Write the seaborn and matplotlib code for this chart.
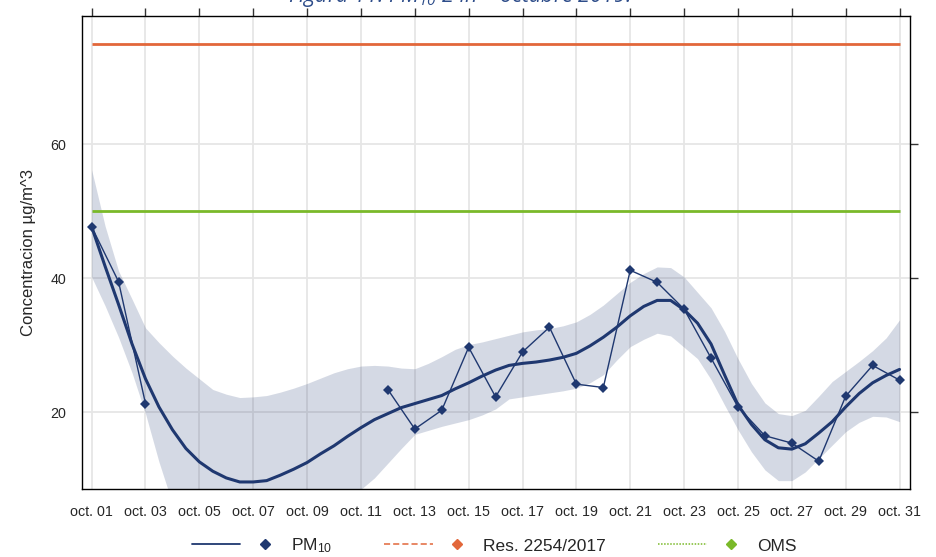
import numpy as np
import pandas as pd
import seaborn as sns
import matplotlib.pyplot as plt
from matplotlib.lines import Line2D
from matplotlib.legend_handler import HandlerTuple

# datos diarios PM10 - octubre 2019
fechas = pd.date_range("2019-10-01", "2019-10-31", freq="D")
pm10 = [47.7, 39.5, 21.3, np.nan, np.nan, np.nan, np.nan, np.nan, np.nan, np.nan, np.nan,
        23.4, 17.5, 20.3, 29.7, 22.3, 29.0, 32.7, 24.2, 23.7, 41.2, 39.4, 35.4, 28.1,
        20.8, 16.5, 15.4, 12.7, 22.4, 27.0, 24.8]

fechas_suav = pd.date_range("2019-10-01", "2019-10-31", freq="12h")
suavizado = [47.7, 41.8, 36.1, 30.2, 25.0, 20.8, 17.4, 14.6, 12.6, 11.2, 10.2, 9.6, 9.6,
             9.8, 10.6, 11.5, 12.5, 13.8, 15.0, 16.4, 17.7, 18.9, 19.8, 20.7, 21.3, 21.9,
             22.5, 23.5, 24.4, 25.4, 26.3, 27.0, 27.3, 27.5, 27.8, 28.2, 28.8, 29.9, 31.2,
             32.7, 34.4, 35.8, 36.7, 36.7, 35.3, 33.3, 30.2, 25.6, 21.1, 18.2, 15.9, 14.7,
             14.5, 15.3, 16.9, 18.6, 20.8, 22.8, 24.4, 25.5, 26.4]
banda_sup = [56.2, 47.8, 41.1, 36.9, 32.6, 30.4, 28.4, 26.6, 25.0, 23.4, 22.7, 22.2, 22.3,
             22.5, 23.0, 23.6, 24.3, 25.1, 25.9, 26.5, 26.9, 27.0, 26.9, 26.6, 26.5, 27.3,
             28.3, 29.4, 30.1, 30.5, 31.0, 31.5, 32.0, 32.3, 32.5, 32.9, 33.5, 34.6, 36.0,
             37.7, 39.4, 40.7, 41.7, 41.6, 40.2, 37.9, 35.6, 32.1, 28.0, 24.3, 21.4, 19.8,
             19.5, 20.3, 22.4, 24.6, 26.1, 27.6, 29.2, 31.1, 33.8]
banda_inf = [40.2, 35.9, 31.2, 25.9, 19.8, 12.6, 6.4, 2.6, 0.2, -1.0, -2.3, -3.0, -3.1,
             -2.9, -1.8, -0.6, 0.7, 2.5, 4.1, 6.3, 8.5, 10.2, 12.4, 14.6, 16.7, 17.3,
             17.9, 18.4, 18.9, 19.6, 20.5, 22.0, 22.3, 22.6, 22.9, 23.2, 23.6, 24.4, 25.6,
             27.8, 29.8, 30.9, 31.8, 31.4, 29.7, 28.0, 24.9, 21.1, 17.4, 14.1, 11.4, 9.8,
             9.8, 11.1, 13.1, 15.1, 17.1, 18.5, 19.4, 19.3, 18.6]
limite_res = 75   # Res. 2254/2017
limite_oms = 50   # OMS

navy = "#1F3870"
naranja = "#E2673A"
verde = "#7AB929"

df = pd.DataFrame({"fecha": fechas, "pm10": pm10})
# tramos para cortar la linea donde faltan datos
df["tramo"] = df["pm10"].isna().cumsum()
df_suav = pd.DataFrame({"fecha": fechas_suav, "suavizado": suavizado,
                        "sup": banda_sup, "inf": banda_inf})

sns.set_style("white")
plt.rcParams["font.family"] = ["Liberation Sans", "DejaVu Sans"]
plt.rcParams["mathtext.default"] = "regular"

fig, ax = plt.subplots(figsize=(9.36, 5.57), dpi=100)
fig.subplots_adjust(left=0.0871, right=0.9722, bottom=0.1215, top=0.9718)

ax.fill_between(df_suav["fecha"], df_suav["inf"], df_suav["sup"], color=navy, alpha=0.19,
                lw=0, zorder=2)
ax.hlines(limite_res, fechas[0], fechas[-1], color=naranja, lw=2, zorder=3)
ax.hlines(limite_oms, fechas[0], fechas[-1], color=verde, lw=2, zorder=3)
sns.lineplot(data=df.dropna(), x="fecha", y="pm10", units="tramo", estimator=None,
             color=navy, lw=1, marker="D", markersize=5, markeredgewidth=0, ax=ax, zorder=4)
sns.lineplot(data=df_suav, x="fecha", y="suavizado", color=navy, lw=2.2, ax=ax, zorder=5)

ax.set_xlim(fechas[0] - pd.Timedelta(hours=9), fechas[-1] + pd.Timedelta(hours=9.3))
ax.set_ylim(8.5, 79.2)
ax.set_xticks(fechas[::2])
ax.set_xticklabels([f"oct. {d.day:02d}" for d in fechas[::2]])
ax.set_yticks([20, 40, 60])
ax.grid(True, color="#E6E6E6", lw=1.3, zorder=1)
ax.set_axisbelow(True)
ax.tick_params(axis="both", which="both", direction="out", length=6, width=1, color="#333333",
               top=True, right=True, labelsize=10.3, pad=5)
for s in ax.spines.values():
    s.set_color("black")
    s.set_linewidth(1)
ax.set_xlabel("")
ax.set_ylabel("Concentracion µg/m^3", fontsize=12, labelpad=10)

# leyenda inferior
h_pm = (Line2D([], [], color=navy, lw=1.3), Line2D([], [], ls="none", marker="D", ms=5, color=navy))
h_res = (Line2D([], [], color=naranja, lw=1.1, ls=(0, (4, 2))), Line2D([], [], ls="none", marker="D", ms=5, color=naranja))
h_oms = (Line2D([], [], color=verde, lw=1.1, ls=(0, (1, 1))), Line2D([], [], ls="none", marker="D", ms=5, color=verde))
fig.legend([h_pm, h_res, h_oms], ["PM$_{10}$", "Res. 2254/2017", "OMS"],
           handler_map={tuple: HandlerTuple(ndivide=2, pad=0)}, ncol=3, loc="center",
           bbox_to_anchor=(0.528, 0.02), frameon=False, handlelength=5.6, handletextpad=0.1,
           columnspacing=3.0, numpoints=1, fontsize=12.5)

fig.text(0.49, 1 - 2 / 557, "Figura 11. PM$_{10}$ 24h – octubre 2019.", ha="center", va="baseline",
         style="italic", color="#2E4D8A", fontsize=15.5, family=["Open Sans", "DejaVu Sans"])

fig.savefig("out.png", dpi=100)
